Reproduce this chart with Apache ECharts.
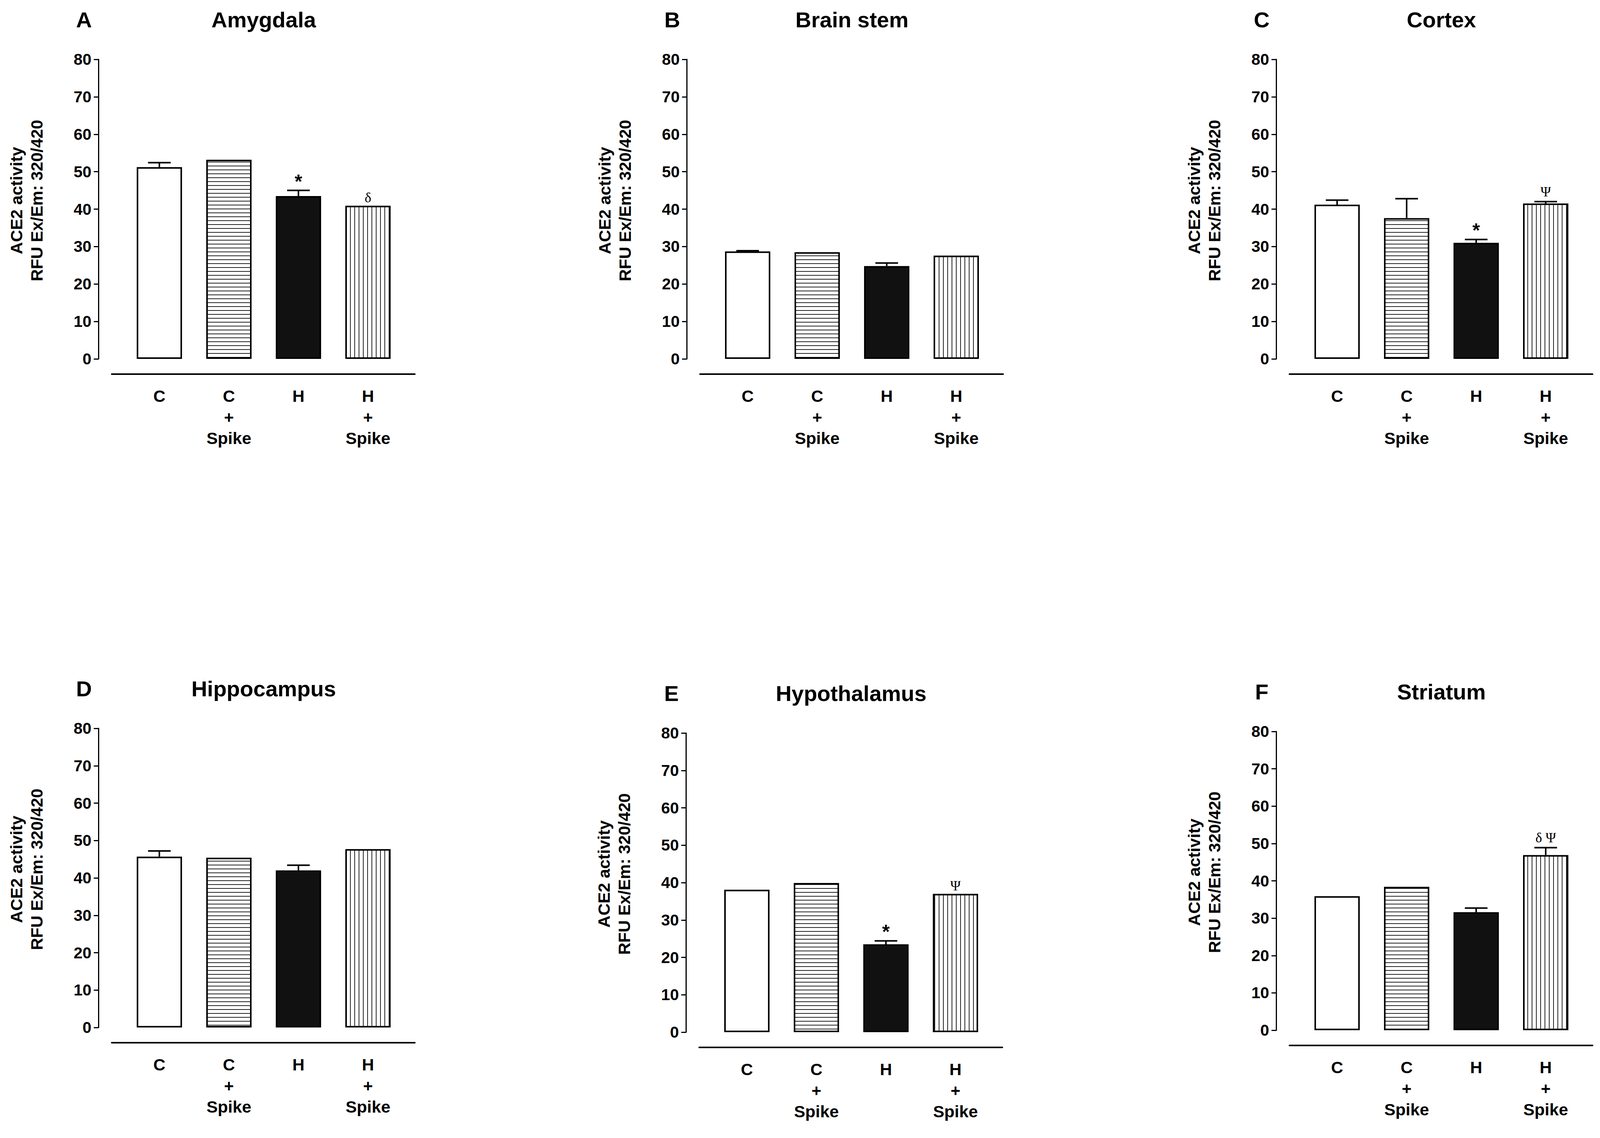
<!DOCTYPE html>
<html>
<head>
<meta charset="utf-8">
<title>ACE2 activity by brain region</title>
<script src="https://cdn.jsdelivr.net/npm/echarts@6/dist/echarts.min.js"></script>
<style>
  html, body { margin: 0; padding: 0; background: #fff; }
  #main { width: 4119px; height: 2914px; }
</style>
</head>
<body>
<div id="main"></div>
<script>
// groups on the x axis
var categories = ['C', 'C\n+\nSpike', 'H', 'H\n+\nSpike'];
var panelLetters = ['A', 'B', 'C', 'D', 'E', 'F'];
var regions = ['Amygdala', 'Brain stem', 'Cortex', 'Hippocampus', 'Hypothalamus', 'Striatum'];
var yTitle = 'ACE2 activity\nRFU Ex/Em: 320/420';
var yMin = 0, yMax = 80, yStep = 10;

// mean ACE2 activity
var amygdala     = [51.2, 53.2, 43.5, 40.9];
var brainStem    = [28.7, 28.5, 24.8, 27.6];
var cortex       = [41.2, 37.6, 31.0, 41.5];
var hippocampus  = [45.7, 45.4, 42.0, 47.7];
var hypothalamus = [38.1, 39.9, 23.5, 37.0];
var striatum     = [35.9, 38.4, 31.6, 46.9];

// SEM, upper whisker only (0 = no visible bar)
var amygdalaSem     = [1.2, 0, 1.5, 0];
var brainStemSem    = [0.2, 0, 0.8, 0];
var cortexSem       = [1.2, 5.2, 0.9, 0.5];
var hippocampusSem  = [1.5, 0, 1.4, 0];
var hypothalamusSem = [0, 0, 0.9, 0];
var striatumSem     = [0, 0, 1.1, 2.0];

// significance marks
var amygdalaMarks     = ['', '', '*', 'δ'];
var brainStemMarks    = ['', '', '', ''];
var cortexMarks       = ['', '', '*', 'Ψ'];
var hippocampusMarks  = ['', '', '', ''];
var hypothalamusMarks = ['', '', '*', 'Ψ'];
var striatumMarks     = ['', '', '', 'δ Ψ'];

var means = [amygdala, brainStem, cortex, hippocampus, hypothalamus, striatum];
var sems  = [amygdalaSem, brainStemSem, cortexSem, hippocampusSem, hypothalamusSem, striatumSem];
var marks = [amygdalaMarks, brainStemMarks, cortexMarks, hippocampusMarks, hypothalamusMarks, striatumMarks];

// ---- layout (pixels) ----
var axisX   = [252, 1758, 3267, 252, 1756, 3267];   // y axis line
var yTop    = [152, 152, 152, 1865, 1877, 1873];    // value 80
var yBottom = [919, 919, 919, 2631, 2643, 2638];    // value 0
var barOffset = 67;     // from y axis to start of first category band
var bandWidth = 178;

var FONT = '"Liberation Sans", Arial, Helvetica, sans-serif';
var SERIF = '"Liberation Serif", "Times New Roman", serif';

// hatch fills
function hatch(horizontal) {
    var c = document.createElement('canvas');
    c.width = horizontal ? 8 : 11;
    c.height = horizontal ? 10 : 8;
    var g = c.getContext('2d');
    g.fillStyle = '#fff';
    g.fillRect(0, 0, c.width, c.height);
    g.fillStyle = '#222';
    if (horizontal) g.fillRect(0, 4, c.width, 2);
    else g.fillRect(5, 0, 2, c.height);
    return c;
}
var fills = [
    '#fff',
    { image: hatch(true), repeat: 'repeat' },
    '#111',
    { image: hatch(false), repeat: 'repeat' }
];

// whisker + mark above each bar
function errRender(markList) {
    return function (params, api) {
        var j = api.value(0), m = api.value(1), e = api.value(2);
        var base = api.coord([j, m]);
        var top = api.coord([j, m + e]);
        var kids = [];
        if (e > 0) {
            kids.push({ type: 'line', shape: { x1: base[0], y1: base[1], x2: top[0], y2: top[1] },
                style: { stroke: '#000', lineWidth: 4 } });
            kids.push({ type: 'line', shape: { x1: top[0] - 29, y1: top[1], x2: top[0] + 29, y2: top[1] },
                style: { stroke: '#000', lineWidth: 4 } });
        }
        var mk = markList[params.dataIndex];
        if (mk) {
            var star = mk === '*';
            var dy = star ? 23 : (e > 0 ? 25 : 21);
            kids.push({ type: 'text', x: top[0], y: top[1] - dy,
                style: { text: mk, fill: '#000',
                    font: star ? 'bold 50px ' + FONT : '36px ' + SERIF,
                    textAlign: 'center', align: 'center',
                    textVerticalAlign: 'middle', verticalAlign: 'middle' } });
        }
        return { type: 'group', children: kids };
    };
}

var grid = [], xAxis = [], yAxis = [], series = [], graphic = [];

for (var i = 0; i < 6; i++) {
    // bars
    grid.push({ left: axisX[i] + barOffset, top: yTop[i],
        width: bandWidth * 4, height: yBottom[i] - yTop[i] });
    xAxis.push({
        type: 'category', gridIndex: i, data: categories,
        axisLine: { show: false }, axisTick: { show: false }, splitLine: { show: false },
        axisLabel: { interval: 0, margin: 68, fontSize: 43, fontWeight: 'bold',
            fontFamily: FONT, color: '#000', lineHeight: 54 }
    });
    yAxis.push({
        type: 'value', gridIndex: i, min: yMin, max: yMax, interval: yStep, offset: barOffset,
        axisLine: { show: true, lineStyle: { color: '#000', width: 3 } },
        axisTick: { show: true, length: 12, lineStyle: { color: '#000', width: 3 } },
        splitLine: { show: false },
        axisLabel: { margin: 18, fontSize: 41, fontWeight: 'bold', fontFamily: FONT, color: '#000' },
        name: yTitle, nameLocation: 'middle', nameGap: 132, nameRotate: 90,
        nameTextStyle: { fontSize: 43, fontWeight: 'bold', fontFamily: FONT, color: '#000',
            lineHeight: 52, padding: [0, 0, 0, 44] }
    });
    series.push({
        type: 'bar', xAxisIndex: i, yAxisIndex: i, barWidth: 116, silent: true,
        itemStyle: { borderColor: '#000', borderWidth: 4 },
        data: means[i].map(function (v, j) { return { value: v, itemStyle: { color: fills[j] } }; })
    });
    series.push({
        type: 'custom', xAxisIndex: i, yAxisIndex: i, silent: true, z: 5,
        renderItem: errRender(marks[i]),
        data: means[i].map(function (v, j) { return [j, v, sems[i][j]]; })
    });

    // panel letter + region title
    graphic.push({ type: 'text', x: axisX[i] - 37, y: yTop[i] - 102,
        style: { text: panelLetters[i], font: 'bold 56px ' + FONT, fill: '#000',
            textAlign: 'center', align: 'center', textVerticalAlign: 'middle', verticalAlign: 'middle' } });
    graphic.push({ type: 'text', x: axisX[i] + 423, y: yTop[i] - 102,
        style: { text: regions[i], font: 'bold 56px ' + FONT, fill: '#000',
            textAlign: 'center', align: 'center', textVerticalAlign: 'middle', verticalAlign: 'middle' } });
}

// long baseline under each panel's groups
for (var k = 0; k < 6; k++) {
    grid.push({ left: axisX[k] + 34, width: 776, top: yBottom[k] + 29, height: 10 });
    xAxis.push({ type: 'value', gridIndex: 6 + k, min: 0, max: 1,
        axisLine: { show: true, onZero: false, lineStyle: { color: '#000', width: 4 } },
        axisTick: { show: false }, axisLabel: { show: false }, splitLine: { show: false } });
    yAxis.push({ type: 'value', gridIndex: 6 + k, min: 0, max: 1, show: false });
}

var chart = echarts.init(document.getElementById('main'), null, { renderer: 'svg' });
chart.setOption({
    backgroundColor: '#fff',
    animation: false,
    textStyle: { fontFamily: FONT },
    grid: grid,
    xAxis: xAxis,
    yAxis: yAxis,
    series: series,
    graphic: graphic
});
</script>
</body>
</html>
